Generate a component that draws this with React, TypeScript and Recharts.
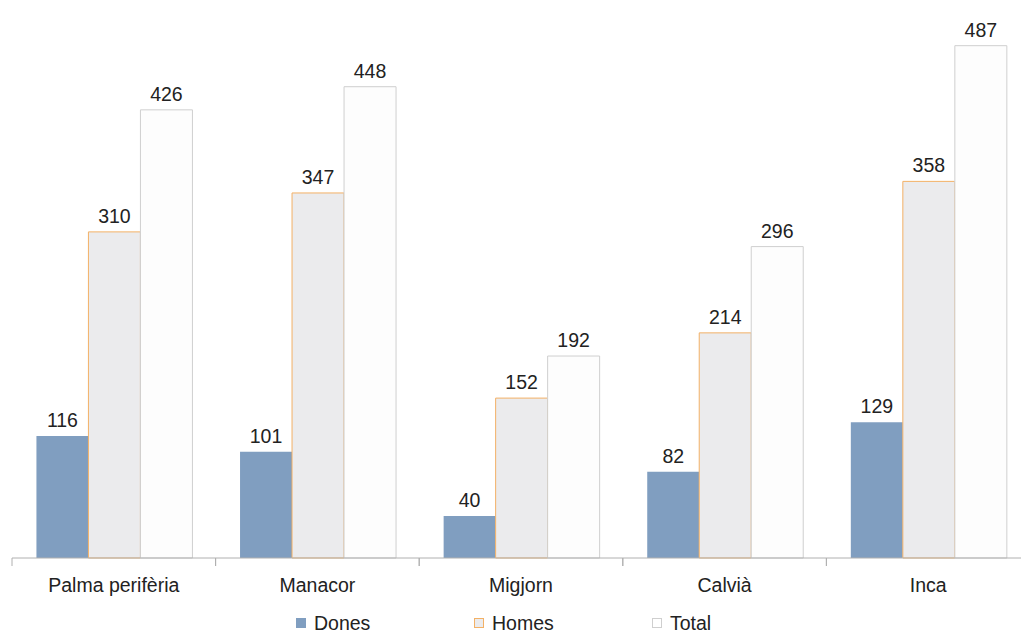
import React from 'react';
import { BarChart, Bar, XAxis, YAxis, LabelList, Legend } from 'recharts';

const categories = ['Palma perifèria', 'Manacor', 'Migjorn', 'Calvià', 'Inca'];
const dones = [116, 101, 40, 82, 129];
const homes = [310, 347, 152, 214, 358];
const total = [426, 448, 192, 296, 487];

const data = categories.map((name, i) => ({
  name,
  Dones: dones[i],
  Homes: homes[i],
  Total: total[i],
}));

const CHART_W = 1050;
const MARGIN = { top: 32, right: 20, left: 12, bottom: 2 };
const BAND = (CHART_W - MARGIN.left - MARGIN.right) / categories.length;
const FONT = '"Liberation Sans", Arial, sans-serif';
const FS = 19.5;

// ticks sit on category boundaries, label in the middle
const CategoryTick = (props: any) => {
  const { x, y, payload } = props;
  return (
    <g>
      <line x1={x - BAND / 2} y1={y - 8} x2={x - BAND / 2} y2={y} stroke="#b0b0b0" />
      <line x1={x + BAND / 2} y1={y - 8} x2={x + BAND / 2} y2={y} stroke="#b0b0b0" />
      <text x={x} y={y + 26} textAnchor="middle" fontSize={FS} fill="#222" fontFamily={FONT}>
        {payload.value}
      </text>
    </g>
  );
};

const legendItems = [
  { label: 'Dones', fill: '#809ec0', stroke: '#809ec0' },
  { label: 'Homes', fill: '#ebebed', stroke: '#f3b166' },
  { label: 'Total', fill: '#ffffff', stroke: '#cfcfcf' },
];

const LegendContent = () => (
  <div style={{ height: 24, display: 'flex', alignItems: 'center', paddingLeft: 296, fontFamily: FONT, fontSize: FS, color: '#222' }}>
    {legendItems.map((it) => (
      <div key={it.label} style={{ width: 178, display: 'flex', alignItems: 'center' }}>
        <span style={{ display: 'inline-block', width: 8, height: 8, background: it.fill, border: `1px solid ${it.stroke}`, marginRight: 8 }} />
        <span>{it.label}</span>
      </div>
    ))}
  </div>
);

export default function App() {
  return (
    <div style={{ position: 'absolute', left: 0, top: 0, width: 1021, height: 637, overflow: 'hidden', background: '#fff' }}>
      <BarChart width={CHART_W} height={637} data={data} margin={MARGIN} barCategoryGap="12%" barGap={0}>
        <YAxis hide domain={[0, 500]} />
        <XAxis dataKey="name" height={53} tickLine={false} stroke="#b0b0b0" tick={<CategoryTick />} interval={0} />
        <Legend verticalAlign="bottom" height={24} content={<LegendContent />} wrapperStyle={{ left: 0, width: CHART_W }} />
        <Bar dataKey="Dones" fill="#809ec0" isAnimationActive={false}>
          <LabelList dataKey="Dones" position="top" fill="#222" fontSize={FS} fontFamily={FONT} offset={9} />
        </Bar>
        <Bar dataKey="Homes" fill="#ebebed" stroke="#f3b166" isAnimationActive={false}>
          <LabelList dataKey="Homes" position="top" fill="#222" fontSize={FS} fontFamily={FONT} offset={9} />
        </Bar>
        <Bar dataKey="Total" fill="#fdfdfd" stroke="#cfcfcf" isAnimationActive={false}>
          <LabelList dataKey="Total" position="top" fill="#222" fontSize={FS} fontFamily={FONT} offset={9} />
        </Bar>
      </BarChart>
    </div>
  );
}
